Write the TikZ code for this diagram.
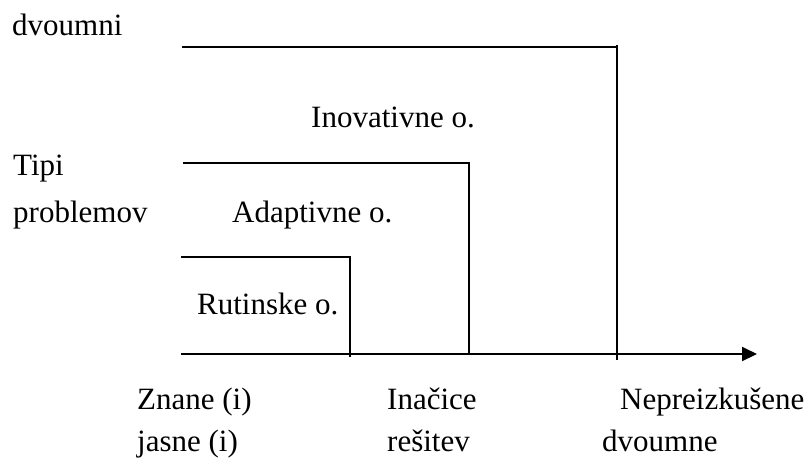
\documentclass[tikz,border=0pt]{standalone}
\usepackage{fontspec}
\setmainfont{Liberation Serif}
\usetikzlibrary{arrows.meta}
\begin{document}
\begin{tikzpicture}[x=1pt,y=-1pt,
  rule/.style={line width=2pt},
  lbl/.style={anchor=base west,inner sep=0pt,font=\fontsize{31}{36}\selectfont}]
\useasboundingbox (0,0) rectangle (808,459);
% corner points of the three nested levels and the axis
\coordinate (axL) at (181,354);
\coordinate (axR) at (757,354);
\coordinate (tL) at (182,47);
\coordinate (tR) at (617,47);
\coordinate (tB) at (617,360);
\coordinate (mL) at (183,163);
\coordinate (mR) at (469,163);
\coordinate (mB) at (469,354);
\coordinate (bL) at (181,257);
\coordinate (bR) at (350,257);
\coordinate (bB) at (350,357);
% axis
\draw[rule,-{Triangle[length=15pt,width=14pt]}] (axL) -- (axR);
% levels
\draw[rule] (tL) -- (tR);
\draw[rule] ([yshift=2pt]tR) -- (tB);
\draw[rule] (mL) -- (mR) -- (mB);
\draw[rule] (bL) -- (bR) -- (bB);
% labels
\node[lbl] (dv) at (12,35) {dvoumni};
\node[lbl] (ino) at (311,127) {Inovativne o.};
\node[lbl] (tip) at (13,175) {Tipi};
\node[lbl] (prob) at (13,222) {problemov};
\node[lbl] (ada) at (232,222) {Adaptivne o.};
\node[lbl] (rut) at (197,314) {Rutinske o.};
\node[lbl] (zn) at (137,409) {Znane (i)};
\node[lbl] (ja) at (137,451) {jasne (i)};
\node[lbl] (ina) at (387,409) {Inačice};
\node[lbl] (res) at (387,451) {rešitev};
\node[lbl] (nep) at (620,409) {Nepreizkušene};
\node[lbl] (dvn) at (602,451) {dvoumne};
\end{tikzpicture}
\end{document}
